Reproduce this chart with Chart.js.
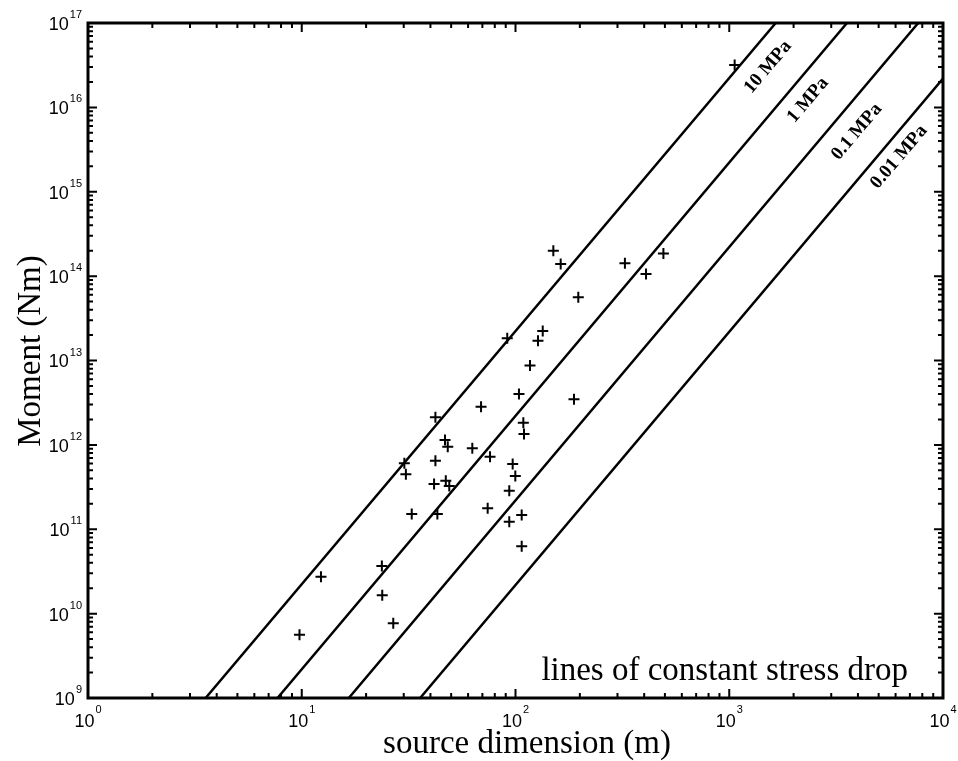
<!DOCTYPE html>
<html>
<head>
<meta charset="utf-8">
<script src="https://cdn.jsdelivr.net/npm/chart.js@4.4.0/dist/chart.umd.min.js"></script>
<style>
  html, body { margin: 0; padding: 0; background: #fff; }
</style>
</head>
<body>
<canvas id="myChart" width="958" height="761"></canvas>
<script>
// measured events: source dimension (m) and seismic moment (Nm)
const sourceDim = [9.76, 12.3, 23.7, 23.8, 26.8, 30.2, 30.7, 32.7, 41.6, 42.2,
  42.2, 43.1, 46.8, 48.2, 47.2, 49.0, 62.8, 69.0, 76.0, 74.1,
  91.5, 93.5, 93.5, 97.0, 99.8, 103.8, 106.9, 106.9, 108.8, 109.6,
  116.9, 127.4, 134.1, 150.3, 162.7, 196.7, 187.8, 325, 408, 492, 1060];
const moment = [5.6e9, 2.74e10, 3.67e10, 1.65e10, 7.7e9, 6.05e11, 4.5e11, 1.52e11, 3.44e11, 2.12e12,
  6.5e11, 1.52e11, 1.14e12, 9.5e11, 3.76e11, 3.26e11, 9.1e11, 2.83e12, 7.24e11, 1.77e11,
  1.83e13, 2.86e11, 1.23e11, 5.93e11, 4.28e11, 4.01e12, 1.48e11, 6.3e10, 1.83e12, 1.35e12,
  8.7e12, 1.72e13, 2.24e13, 2.0e14, 1.39e14, 5.6e13, 3.47e12, 1.42e14, 1.06e14, 1.86e14, 3.18e16];

// lines of constant stress drop, endpoints
const stressLabels = ['10 MPa', '1 MPa', '0.1 MPa', '0.01 MPa'];
const stressLineX = [[3.55, 1650], [7.7, 3555], [16.6, 7660], [35.8, 10000]];
const stressLineY = [[1e9, 1e17], [1e9, 1e17], [1e9, 1e17], [1e9, 2.2e16]];
// where each label sits (data coords)
const stressLabelPos = [[1518, 3.0e16], [2335, 1.22e16], [3948, 5.15e15], [6223, 2.58e15]];

const xTickExp = [0, 1, 2, 3, 4];
const yTickExp = [9, 10, 11, 12, 13, 14, 15, 16, 17];

const SERIF = '"Liberation Serif", "Times New Roman", serif';
const SANS = '"Liberation Sans", Arial, sans-serif';

const lineSets = stressLabels.map((lab, i) => ({
  label: lab,
  data: stressLineX[i].map((v, j) => ({ x: v, y: stressLineY[i][j] })),
  showLine: true,
  borderColor: '#000',
  borderWidth: 2.5,
  pointRadius: 0,
  fill: false
}));

const frame = {
  id: 'frame',
  afterDraw(chart) {
    const { ctx, chartArea: a, scales: { x, y } } = chart;
    ctx.save();
    ctx.strokeStyle = '#000';
    ctx.fillStyle = '#000';

    // inward ticks, all four sides
    ctx.lineWidth = 2;
    ctx.beginPath();
    for (let e = 0; e <= 4; e++) {
      for (let m = 1; m <= 9; m++) {
        const v = m * Math.pow(10, e);
        if (v > 1e4) break;
        const px = x.getPixelForValue(v);
        const len = m === 1 ? 9 : 5;
        ctx.moveTo(px, a.bottom); ctx.lineTo(px, a.bottom - len);
        ctx.moveTo(px, a.top); ctx.lineTo(px, a.top + len);
      }
    }
    for (let e = 9; e <= 17; e++) {
      for (let m = 1; m <= 9; m++) {
        const v = m * Math.pow(10, e);
        if (v > 1e17) break;
        const py = y.getPixelForValue(v);
        const len = m === 1 ? 9 : 5;
        ctx.moveTo(a.left, py); ctx.lineTo(a.left + len, py);
        ctx.moveTo(a.right, py); ctx.lineTo(a.right - len, py);
      }
    }
    ctx.stroke();

    ctx.lineWidth = 3;
    ctx.strokeRect(a.left, a.top, a.right - a.left, a.bottom - a.top);

    // tick labels 10^n
    const base = '18px ' + SANS, sup = '11px ' + SANS;
    ctx.textBaseline = 'middle';
    ctx.textAlign = 'left';
    xTickExp.forEach(n => {
      const px = x.getPixelForValue(Math.pow(10, n));
      ctx.font = base; const w1 = ctx.measureText('10').width;
      ctx.font = sup; const w2 = ctx.measureText(String(n)).width;
      const x0 = px - (w1 + w2 + 1) / 2;
      ctx.font = base; ctx.fillText('10', x0, a.bottom + 24);
      ctx.font = sup; ctx.fillText(String(n), x0 + w1 + 1, a.bottom + 12);
    });
    yTickExp.forEach(n => {
      const py = y.getPixelForValue(Math.pow(10, n));
      ctx.font = base; const w1 = ctx.measureText('10').width;
      ctx.font = sup; const w2 = ctx.measureText(String(n)).width;
      const x0 = a.left - 6 - w1 - w2 - 1;
      ctx.font = base; ctx.fillText('10', x0, py + 2);
      ctx.font = sup; ctx.fillText(String(n), x0 + w1 + 1, py - 8);
    });

    // axis titles
    ctx.font = '33px ' + SERIF;
    ctx.textBaseline = 'alphabetic';
    ctx.textAlign = 'center';
    ctx.fillText('source dimension (m)', 527, 753);
    ctx.save();
    ctx.translate(40, 351);
    ctx.rotate(-Math.PI / 2);
    ctx.fillText('Moment (Nm)', 0, 0);
    ctx.restore();

    ctx.textAlign = 'right';
    ctx.fillText('lines of constant stress drop', a.right - 35, a.bottom - 18);

    // labels along the stress-drop lines
    ctx.font = 'bold 19px ' + SERIF;
    ctx.textAlign = 'center';
    ctx.textBaseline = 'middle';
    stressLabels.forEach((lab, i) => {
      const p0x = x.getPixelForValue(stressLineX[i][0]), p0y = y.getPixelForValue(stressLineY[i][0]);
      const p1x = x.getPixelForValue(stressLineX[i][1]), p1y = y.getPixelForValue(stressLineY[i][1]);
      const ang = Math.atan2(p1y - p0y, p1x - p0x);
      ctx.save();
      ctx.translate(x.getPixelForValue(stressLabelPos[i][0]), y.getPixelForValue(stressLabelPos[i][1]));
      ctx.rotate(ang);
      ctx.fillText(lab, 0, 0);
      ctx.restore();
    });
    ctx.restore();
  }
};

new Chart(document.getElementById('myChart').getContext('2d'), {
  type: 'scatter',
  data: {
    datasets: [
      ...lineSets,
      {
        label: 'events',
        data: sourceDim.map((v, i) => ({ x: v, y: moment[i] })),
        pointStyle: 'cross',
        pointRadius: 5.5,
        pointBorderWidth: 2,
        borderColor: '#000',
        backgroundColor: '#000',
        showLine: false
      }
    ]
  },
  options: {
    responsive: false,
    animation: false,
    devicePixelRatio: 1,
    layout: { padding: { left: 88, top: 23, right: 15, bottom: 63 } },
    plugins: { legend: { display: false }, tooltip: { enabled: false } },
    scales: {
      x: { type: 'logarithmic', min: 1, max: 1e4, display: false },
      y: { type: 'logarithmic', min: 1e9, max: 1e17, display: false }
    }
  },
  plugins: [frame]
});
</script>
</body>
</html>
